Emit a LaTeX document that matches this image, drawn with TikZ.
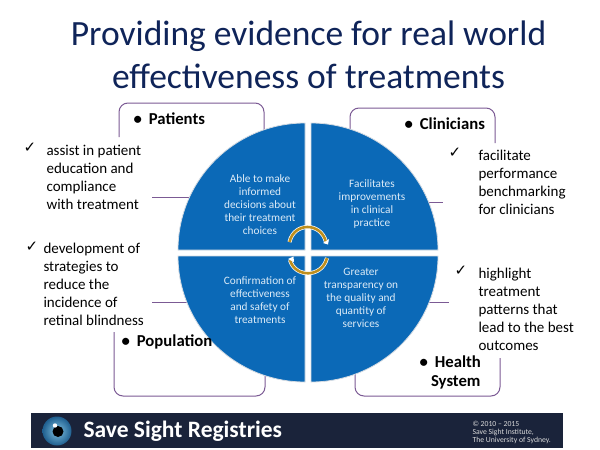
\documentclass[tikz,border=0pt]{standalone}
\usepackage{fontspec}
\setmainfont{Carlito}
\newfontfamily\symfont{DejaVu Sans}
\definecolor{titleblue}{HTML}{0F2459}
\definecolor{pieblue}{HTML}{0B69B7}
\definecolor{purpleline}{HTML}{7B5A94}
\definecolor{goldarc}{HTML}{BE8F1E}
\definecolor{bannerbg}{HTML}{1A233A}
\definecolor{pietext}{HTML}{DCEBF7}
\definecolor{rimgrey}{HTML}{D5DBE2}
\definecolor{irisin}{HTML}{7FC0E0}
\definecolor{irisout}{HTML}{1F5F8F}
\tikzset{
  x=1pt,y=-1pt,
  frameline/.style={draw=purpleline,line width=1pt,rounded corners=9pt},
  stub/.style={draw=purpleline,line width=1pt},
  slice/.style={fill=pieblue,draw=rimgrey,line width=0.8pt},
  pietxt/.style={align=center,text=pietext,font=\fontsize{11.3}{13}\selectfont},
  listtxt/.style={align=left,anchor=north west,text=black,font=\fontsize{15}{18}\selectfont},
  head/.style={text=black,anchor=west,font=\fontsize{16.7}{19}\selectfont\bfseries,align=left},
  tick/.style={text=black,font=\symfont\fontsize{15}{15}\selectfont},
  turn/.style={draw=goldarc,line width=2.6pt},
  turnedge/.style={draw=white,line width=4pt}
}
\begin{document}
\begin{tikzpicture}
\useasboundingbox (0,0) rectangle (600,450);
\fill[white] (0,0) rectangle (600,450);
\node[text=titleblue,align=center,font=\fontsize{35.5}{42.5}\selectfont] (title) at (308.5,55) {Providing evidence for real world\\effectiveness of treatments};
% frames
\coordinate (pa) at (119,137); \coordinate (pb) at (119,103); \coordinate (pc) at (264,103); \coordinate (pd) at (264,130);
\draw[frameline] (pa) -- (pb) -- (pc) -- (pd);
\coordinate (ca) at (350,130); \coordinate (cb) at (350,108); \coordinate (cc) at (495,108); \coordinate (cd) at (495,143);
\draw[frameline] (ca) -- (cb) -- (cc) -- (cd);
\coordinate (na) at (114,332); \coordinate (nb) at (114,396); \coordinate (nc) at (265,396); \coordinate (nd) at (265,372);
\draw[frameline] (na) -- (nb) -- (nc) -- (nd);
\coordinate (ha) at (355,370); \coordinate (hb) at (355,396); \coordinate (hc) at (500,396); \coordinate (hd) at (500,358);
\draw[frameline] (ha) -- (hb) -- (hc) -- (hd);
% stubs
\coordinate (s1a) at (152,197); \coordinate (s1b) at (195,197);
\coordinate (s2a) at (420,202); \coordinate (s2b) at (443,202);
\coordinate (s3a) at (152,302); \coordinate (s3b) at (195,302);
\coordinate (s4a) at (420,302); \coordinate (s4b) at (449,302);
\draw[stub] (s1a) -- (s1b);
\draw[stub] (s2a) -- (s2b);
\draw[stub] (s3a) -- (s3b);
\draw[stub] (s4a) -- (s4b);
% pie
\path[slice] (305,250) -- (178,250) arc[start angle=180,end angle=90,x radius=127,y radius=-127] -- cycle;
\path[slice] (311,250) -- (311,123) arc[start angle=90,end angle=0,x radius=127,y radius=-127] -- cycle;
\path[slice] (305,256) -- (305,382) arc[start angle=270,end angle=180,x radius=127,y radius=-126] -- cycle;
\path[slice] (311,256) -- (438,256) arc[start angle=0,end angle=-90,x radius=127,y radius=-126] -- cycle;
\node[pietxt] (q1) at (260,205) {Able to make\\informed\\decisions about\\their treatment\\choices};
\node[pietxt] (q2) at (372,204) {Facilitates\\improvements\\in clinical\\practice};
\node[pietxt] (q3) at (260,300) {Confirmation of\\effectiveness\\and safety of\\treatments};
\node[pietxt] (q4) at (361,298) {Greater\\transparency on\\the quality and\\quantity of\\services};
% arcs
\foreach \st in {turnedge,turn}{
\draw[\st] (289.5,242) .. controls (294,222) and (321,222) .. (326,242);
\draw[\st] (290,260) .. controls (295,278) and (322,278) .. (327,258);
}
\fill[white] (323,243) -- (329,239) -- (328,244.5) -- cycle;
\fill[white] (288,259) -- (293.5,256.5) -- (294,262) -- cycle;
% heads
\node[head] (h1) at (130,119) {\textbullet\hspace{7pt}Patients};
\node[head] (h2) at (401,124) {\textbullet\hspace{7pt}Clinicians};
\node[head] (h3) at (118,342) {\textbullet\hspace{7pt}Population};
\node[head] (h4) at (416,372.5) {\textbullet\hspace{7pt}Health\\\hspace{11.5pt}System};
% lists
\node[tick] (t1) at (30,148) {✓};
\node[listtxt] (l1) at (43,141.5) {assist in patient\\education and\\compliance\\with treatment};
\node[tick] (t2) at (32,247) {✓};
\node[listtxt] (l2) at (40,239.5) {development of\\strategies to\\reduce the\\incidence of\\retinal blindness};
\node[tick] (t3) at (455,153) {✓};
\node[listtxt] (l3) at (475,146.5) {facilitate\\performance\\benchmarking\\for clinicians};
\node[tick] (t4) at (461,271) {✓};
\node[listtxt] (l4) at (475,264.5) {highlight\\treatment\\patterns that\\lead to the best\\outcomes};
% banner
\fill[bannerbg] (31,413) rectangle (563,448);
\shade[inner color=irisin,outer color=irisout,shading=radial] (57,431) circle[radius=14.5];
\fill[black] (58,431.5) circle[radius=5.5];
\fill[white] (55,425.5) circle[radius=2.2];
\node[text=white,font=\fontsize{23.5}{25}\selectfont\bfseries,anchor=west] (brand) at (80,431) {Save Sight Registries};
\node[text=white!85!black,align=left,anchor=west,font=\fontsize{7.7}{8}\selectfont] (copy) at (469,432) {© 2010 – 2015\\Save Sight Institute,\\The University of Sydney.};
\end{tikzpicture}
\end{document}
